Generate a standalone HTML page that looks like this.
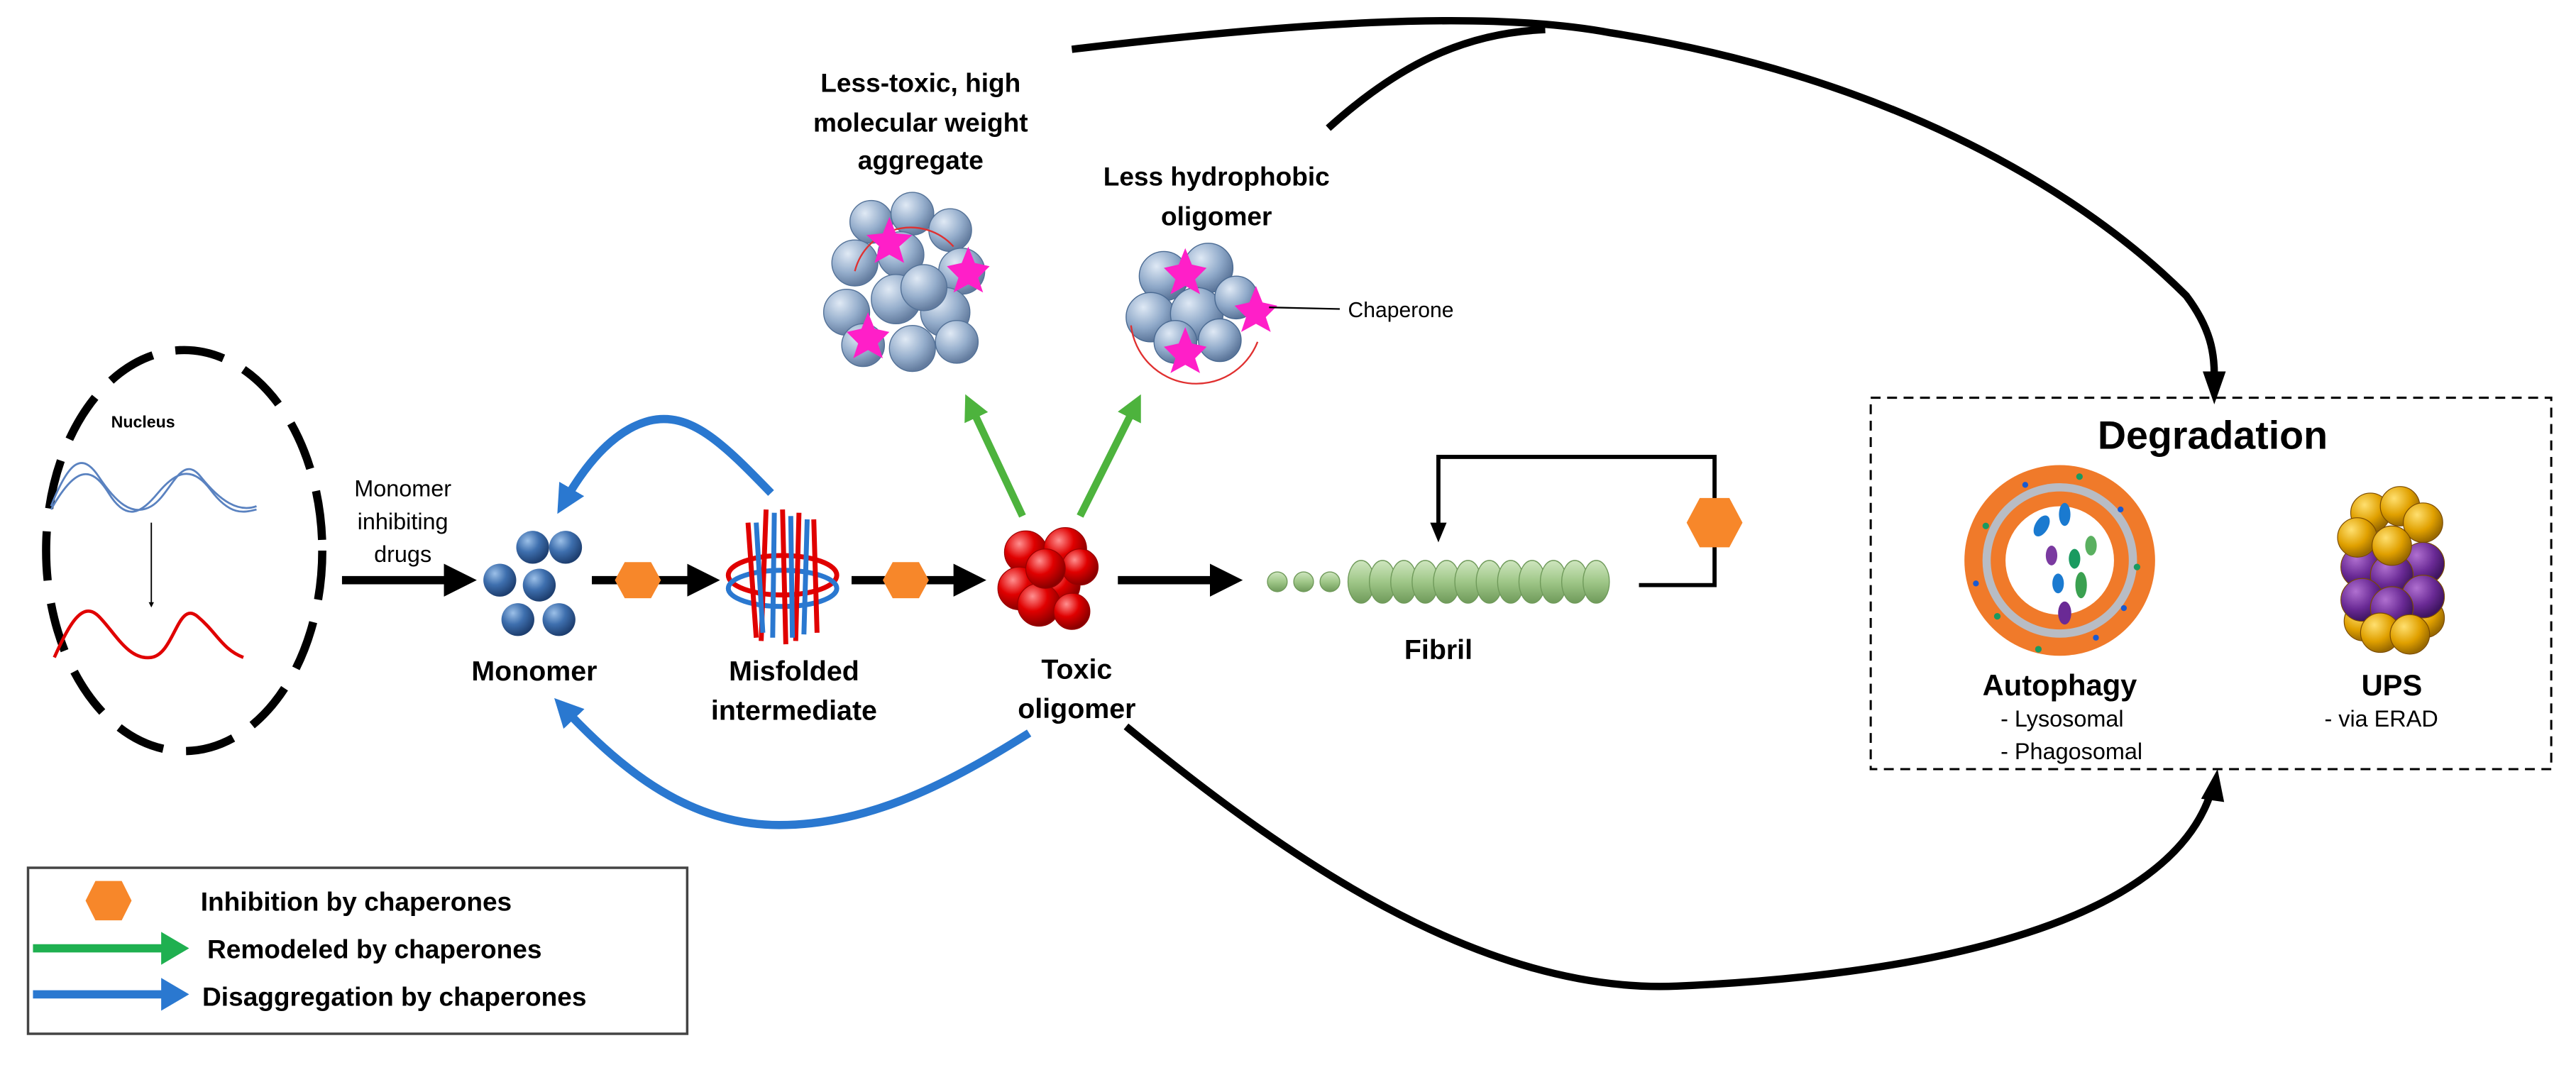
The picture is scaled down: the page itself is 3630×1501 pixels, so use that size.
<!DOCTYPE html>
<html><head><meta charset="utf-8"><style>
html,body{margin:0;padding:0;background:#fff;}
svg{display:block;}
text{font-family:"Liberation Sans",Arial,sans-serif;}
</style></head><body>
<svg width="3630" height="1501" viewBox="0 0 1567 648" xmlns="http://www.w3.org/2000/svg">
<defs>
<radialGradient id="gb" cx="35%" cy="30%" r="70%"><stop offset="0" stop-color="#9cc0e8"/><stop offset="0.5" stop-color="#3e6fae"/><stop offset="1" stop-color="#1e3f70"/></radialGradient>
<radialGradient id="gl" cx="35%" cy="30%" r="70%"><stop offset="0" stop-color="#dfe9f5"/><stop offset="0.6" stop-color="#8fa9c9"/><stop offset="1" stop-color="#5c769a"/></radialGradient>
<radialGradient id="gr" cx="35%" cy="30%" r="70%"><stop offset="0" stop-color="#ff9090"/><stop offset="0.5" stop-color="#e00000"/><stop offset="1" stop-color="#8a0000"/></radialGradient>
<linearGradient id="gf" x1="0" y1="0" x2="0" y2="1"><stop offset="0" stop-color="#cfe6bf"/><stop offset="0.5" stop-color="#9fc788"/><stop offset="1" stop-color="#6f9a5a"/></linearGradient>
<radialGradient id="gy" cx="35%" cy="30%" r="70%"><stop offset="0" stop-color="#ffe070"/><stop offset="0.6" stop-color="#e0a000"/><stop offset="1" stop-color="#9a6a00"/></radialGradient>
<radialGradient id="gp" cx="35%" cy="30%" r="70%"><stop offset="0" stop-color="#b070d0"/><stop offset="0.6" stop-color="#6a2a95"/><stop offset="1" stop-color="#3e1460"/></radialGradient>
<marker id="ak" markerWidth="4" markerHeight="4" refX="2" refY="2" orient="auto" markerUnits="strokeWidth"><path d="M0,0 L4,2 L0,4 z" fill="#000"/></marker>
<marker id="ab" markerWidth="3.5" markerHeight="3.5" refX="1.5" refY="1.75" orient="auto" markerUnits="strokeWidth"><path d="M0,0 L3.5,1.75 L0,3.5 z" fill="#2a78d0"/></marker>
<marker id="ag" markerWidth="3.5" markerHeight="3.5" refX="1.5" refY="1.75" orient="auto" markerUnits="strokeWidth"><path d="M0,0 L3.5,1.75 L0,3.5 z" fill="#4db33d"/></marker>
</defs>

<!-- Nucleus -->
<ellipse cx="112" cy="335" rx="84" ry="122" fill="none" stroke="#000" stroke-width="5" stroke-dasharray="30,14"/>
<text x="87" y="260" font-size="10" font-weight="bold" text-anchor="middle">Nucleus</text>
<path d="M31,308 C42,280 50,275 60,290 S80,315 92,308 S110,275 122,290 S145,312 156,308" fill="none" stroke="#5a82c0" stroke-width="1.2"/>
<path d="M31,310 C45,285 55,282 66,300 S86,312 96,300 S116,282 128,298 S148,312 156,310" fill="none" stroke="#5a82c0" stroke-width="1.2"/>
<line x1="92" y1="318" x2="92" y2="368" stroke="#000" stroke-width="0.8" marker-end="url(#ak)"/>
<path d="M33,400 C42,380 50,365 60,375 S78,402 92,400 S108,365 120,375 S135,395 148,400" fill="none" stroke="#e00000" stroke-width="2"/>

<text x="245" y="302" font-size="14" text-anchor="middle">Monomer</text>
<text x="245" y="322" font-size="14" text-anchor="middle">inhibiting</text>
<text x="245" y="342" font-size="14" text-anchor="middle">drugs</text>
<line x1="208" y1="353" x2="280" y2="353" stroke="#000" stroke-width="5" marker-end="url(#ak)"/>

<!-- Monomer -->
<g fill="url(#gb)"><circle cx="324" cy="333" r="10"/><circle cx="344" cy="333" r="10"/><circle cx="304" cy="353" r="10"/><circle cx="328" cy="356" r="10"/><circle cx="315" cy="377" r="10"/><circle cx="340" cy="377" r="10"/></g>
<text x="325" y="414" font-size="17" font-weight="bold" text-anchor="middle">Monomer</text>

<line x1="360" y1="353" x2="428" y2="353" stroke="#000" stroke-width="5" marker-end="url(#ak)"/>
<polygon points="380,342 396,342 402,353 396,364 380,364 374,353" fill="#f7872a"/>

<!-- Misfolded -->
<g fill="none" stroke-width="3">
<ellipse cx="476" cy="350" rx="33" ry="12" stroke="#e00000"/>
<ellipse cx="476" cy="358" rx="33" ry="11" stroke="#2a78d0"/>
<path d="M455,318 L460,388 M466,310 L463,390 M476,310 L478,392 M486,312 L484,390 M495,316 L497,385" stroke="#e00000"/>
<path d="M460,318 L464,385 M471,312 L470,388 M481,314 L482,388 M491,316 L489,386" stroke="#2a78d0"/>
</g>
<text x="483" y="414" font-size="17" font-weight="bold" text-anchor="middle">Misfolded</text>
<text x="483" y="438" font-size="17" font-weight="bold" text-anchor="middle">intermediate</text>

<line x1="518" y1="353" x2="590" y2="353" stroke="#000" stroke-width="5" marker-end="url(#ak)"/>
<polygon points="543,342 559,342 565,353 559,364 543,364 537,353" fill="#f7872a"/>

<!-- Toxic oligomer -->
<g fill="url(#gr)" stroke="#900" stroke-width="0.5"><circle cx="624" cy="336" r="13"/><circle cx="648" cy="334" r="13"/><circle cx="620" cy="358" r="13"/><circle cx="644" cy="356" r="13"/><circle cx="657" cy="345" r="11"/><circle cx="632" cy="368" r="13"/><circle cx="652" cy="372" r="11"/><circle cx="636" cy="346" r="12"/></g>
<text x="655" y="413" font-size="17" font-weight="bold" text-anchor="middle">Toxic</text>
<text x="655" y="437" font-size="17" font-weight="bold" text-anchor="middle">oligomer</text>

<line x1="680" y1="353" x2="746" y2="353" stroke="#000" stroke-width="5" marker-end="url(#ak)"/>

<!-- Fibril -->
<g fill="url(#gf)" stroke="#6f9a5a" stroke-width="0.6">
<circle cx="777" cy="354" r="6"/><circle cx="793" cy="354" r="6"/><circle cx="809" cy="354" r="6"/>
<ellipse cx="828" cy="354" rx="8" ry="13"/><ellipse cx="841" cy="354" rx="8" ry="13"/><ellipse cx="854" cy="354" rx="8" ry="13"/><ellipse cx="867" cy="354" rx="8" ry="13"/><ellipse cx="880" cy="354" rx="8" ry="13"/><ellipse cx="893" cy="354" rx="8" ry="13"/><ellipse cx="906" cy="354" rx="8" ry="13"/><ellipse cx="919" cy="354" rx="8" ry="13"/><ellipse cx="932" cy="354" rx="8" ry="13"/><ellipse cx="945" cy="354" rx="8" ry="13"/><ellipse cx="958" cy="354" rx="8" ry="13"/><ellipse cx="971" cy="354" rx="8" ry="13"/>
</g>
<text x="875" y="401" font-size="17" font-weight="bold" text-anchor="middle">Fibril</text>
<polyline points="997,356 1043,356 1043,278 875,278 875,322" fill="none" stroke="#000" stroke-width="2.5"/>
<path d="M870,318 L880,318 L875,330 z" fill="#000"/>
<polygon points="1034,303 1052,303 1060,318 1052,333 1034,333 1026,318" fill="#f7872a"/>

<!-- Aggregate -->
<g fill="url(#gl)" stroke="#4a6a92" stroke-width="0.6" opacity="0.95">
<circle cx="530" cy="135" r="13"/><circle cx="555" cy="130" r="13"/><circle cx="578" cy="140" r="13"/><circle cx="520" cy="160" r="14"/><circle cx="548" cy="155" r="14"/><circle cx="585" cy="165" r="14"/><circle cx="515" cy="190" r="14"/><circle cx="545" cy="182" r="15"/><circle cx="575" cy="190" r="15"/><circle cx="525" cy="210" r="13"/><circle cx="555" cy="212" r="14"/><circle cx="582" cy="208" r="13"/><circle cx="562" cy="175" r="14"/>
</g>
<path d="M520,165 A35,35 0 0 1 580,150" fill="none" stroke="#e03030" stroke-width="1"/>
<g fill="#ff1fc8"><polygon points="537,142 541,132 545,142 555,143 547,150 550,160 541,155 532,160 535,150 527,143"/><polygon points="585,160 589,150 593,160 602,162 595,169 598,178 589,173 580,178 583,169 576,162"/><polygon points="524,200 528,190 532,200 541,202 534,209 537,218 528,213 519,218 522,209 515,202"/></g>
<text x="560" y="56" font-size="16" font-weight="bold" text-anchor="middle">Less-toxic, high</text>
<text x="560" y="80" font-size="16" font-weight="bold" text-anchor="middle">molecular weight</text>
<text x="560" y="103" font-size="16" font-weight="bold" text-anchor="middle">aggregate</text>

<!-- Hydrophobic oligomer -->
<g fill="url(#gl)" stroke="#4a6a92" stroke-width="0.6">
<circle cx="708" cy="168" r="15"/><circle cx="735" cy="163" r="15"/><circle cx="700" cy="193" r="15"/><circle cx="728" cy="191" r="16"/><circle cx="752" cy="181" r="13"/><circle cx="715" cy="208" r="13"/><circle cx="742" cy="207" r="13"/>
</g>
<path d="M688,198 A40,40 0 0 0 765,208" fill="none" stroke="#e03030" stroke-width="1"/>
<g fill="#ff1fc8"><polygon points="717,161 721,151 725,161 734,163 727,170 730,179 721,174 712,179 715,170 708,163"/><polygon points="760,184 764,174 768,184 777,186 770,193 773,202 764,197 755,202 758,193 751,186"/><polygon points="717,209 721,199 725,209 734,211 727,218 730,227 721,222 712,227 715,218 708,211"/></g>
<line x1="772" y1="187" x2="815" y2="188" stroke="#000" stroke-width="1"/>
<text x="820" y="193" font-size="13">Chaperone</text>
<text x="740" y="113" font-size="16" font-weight="bold" text-anchor="middle">Less hydrophobic</text>
<text x="740" y="137" font-size="16" font-weight="bold" text-anchor="middle">oligomer</text>

<!-- Green arrows -->
<line x1="622" y1="314" x2="591" y2="248" stroke="#4db33d" stroke-width="4.5" marker-end="url(#ag)"/>
<line x1="657" y1="314" x2="690" y2="248" stroke="#4db33d" stroke-width="4.5" marker-end="url(#ag)"/>

<!-- Blue arrows -->
<path d="M469,300 C440,270 420,250 395,256 C372,262 355,285 344,304" fill="none" stroke="#2a78d0" stroke-width="5" marker-end="url(#ab)"/>
<path d="M626,446 C580,475 530,502 474,502 C420,502 380,470 344,432" fill="none" stroke="#2a78d0" stroke-width="5" marker-end="url(#ab)"/>

<!-- Black curves to degradation -->
<path d="M652,30 C780,15 900,5 980,20 C1140,45 1260,110 1330,180 C1345,200 1347,215 1347,228" fill="none" stroke="#000" stroke-width="4.5"/>
<path d="M808,78 C850,40 890,20 940,18" fill="none" stroke="#000" stroke-width="4.5"/>
<path d="M1340,226 L1354,226 L1347,246 z" fill="#000"/>
<path d="M685,442 C780,520 900,605 1020,600 C1180,593 1320,560 1345,482" fill="none" stroke="#000" stroke-width="4.5"/>
<path d="M1339,486 L1353,488 L1349,468 z" fill="#000"/>

<!-- Degradation box -->
<rect x="1138" y="242" width="414" height="226" fill="none" stroke="#000" stroke-width="1.3" stroke-dasharray="6,4"/>
<text x="1346" y="273" font-size="24" font-weight="bold" text-anchor="middle">Degradation</text>
<circle cx="1253" cy="341" r="58" fill="#f07a2a"/>
<circle cx="1253" cy="341" r="47" fill="#b8bcc4"/>
<circle cx="1253" cy="341" r="42" fill="#f07a2a"/>
<circle cx="1253" cy="341" r="33" fill="#fff"/>
<g fill="#1a9a60"><circle cx="1265" cy="290" r="2"/><circle cx="1208" cy="320" r="2"/><circle cx="1300" cy="345" r="2"/><circle cx="1215" cy="375" r="2"/><circle cx="1240" cy="395" r="2"/></g>
<g fill="#1a5ad0"><circle cx="1232" cy="295" r="1.8"/><circle cx="1290" cy="310" r="1.8"/><circle cx="1202" cy="355" r="1.8"/><circle cx="1292" cy="370" r="1.8"/><circle cx="1275" cy="388" r="1.8"/></g>
<g><ellipse cx="1242" cy="320" rx="4" ry="7" fill="#1a7ad0" transform="rotate(30 1242 320)"/><ellipse cx="1256" cy="313" rx="3.5" ry="7" fill="#1a7ad0"/><ellipse cx="1248" cy="338" rx="3.5" ry="6" fill="#7a3aa0"/><ellipse cx="1262" cy="340" rx="3.5" ry="6" fill="#1a9a60"/><ellipse cx="1272" cy="332" rx="3.5" ry="6" fill="#5ab060"/><ellipse cx="1252" cy="355" rx="3.5" ry="6" fill="#1a7ad0"/><ellipse cx="1266" cy="356" rx="3.5" ry="8" fill="#3aa050"/><ellipse cx="1256" cy="373" rx="4" ry="7" fill="#6a2a95"/></g>
<g stroke="#7a4a00" stroke-width="0.5">
<circle cx="1442" cy="312" r="12" fill="url(#gy)"/><circle cx="1460" cy="308" r="12" fill="url(#gy)"/><circle cx="1474" cy="318" r="12" fill="url(#gy)"/>
<circle cx="1438" cy="378" r="12" fill="url(#gy)"/><circle cx="1475" cy="376" r="12" fill="url(#gy)"/>
<circle cx="1437" cy="345" r="13" fill="url(#gp)"/><circle cx="1474" cy="343" r="13" fill="url(#gp)"/><circle cx="1455" cy="350" r="13" fill="url(#gp)"/><circle cx="1437" cy="365" r="13" fill="url(#gp)"/><circle cx="1474" cy="363" r="13" fill="url(#gp)"/><circle cx="1455" cy="370" r="13" fill="url(#gp)"/>
<circle cx="1434" cy="327" r="12" fill="url(#gy)"/><circle cx="1455" cy="332" r="12" fill="url(#gy)"/>
<circle cx="1448" cy="385" r="12" fill="url(#gy)"/><circle cx="1466" cy="386" r="12" fill="url(#gy)"/>
</g>
<text x="1253" y="423" font-size="18" font-weight="bold" text-anchor="middle">Autophagy</text>
<text x="1217" y="442" font-size="14">- Lysosomal</text>
<text x="1217" y="462" font-size="14">- Phagosomal</text>
<text x="1455" y="423" font-size="18" font-weight="bold" text-anchor="middle">UPS</text>
<text x="1414" y="442" font-size="14">- via ERAD</text>

<!-- Legend -->
<rect x="17" y="528" width="401" height="101" fill="#fff" stroke="#444" stroke-width="1.5"/>
<polygon points="58,536 74,536 80,548 74,560 58,560 52,548" fill="#f7872a"/>
<text x="122" y="554" font-size="16" font-weight="bold">Inhibition by chaperones</text>
<line x1="20" y1="577" x2="100" y2="577" stroke="#1fb050" stroke-width="5"/>
<path d="M98,567 L115,577 L98,587 z" fill="#1fb050"/>
<text x="126" y="583" font-size="16" font-weight="bold">Remodeled by chaperones</text>
<line x1="20" y1="605" x2="100" y2="605" stroke="#2a78d0" stroke-width="5"/>
<path d="M98,595 L115,605 L98,615 z" fill="#2a78d0"/>
<text x="123" y="612" font-size="16" font-weight="bold">Disaggregation by chaperones</text>
</svg>
</body></html>
